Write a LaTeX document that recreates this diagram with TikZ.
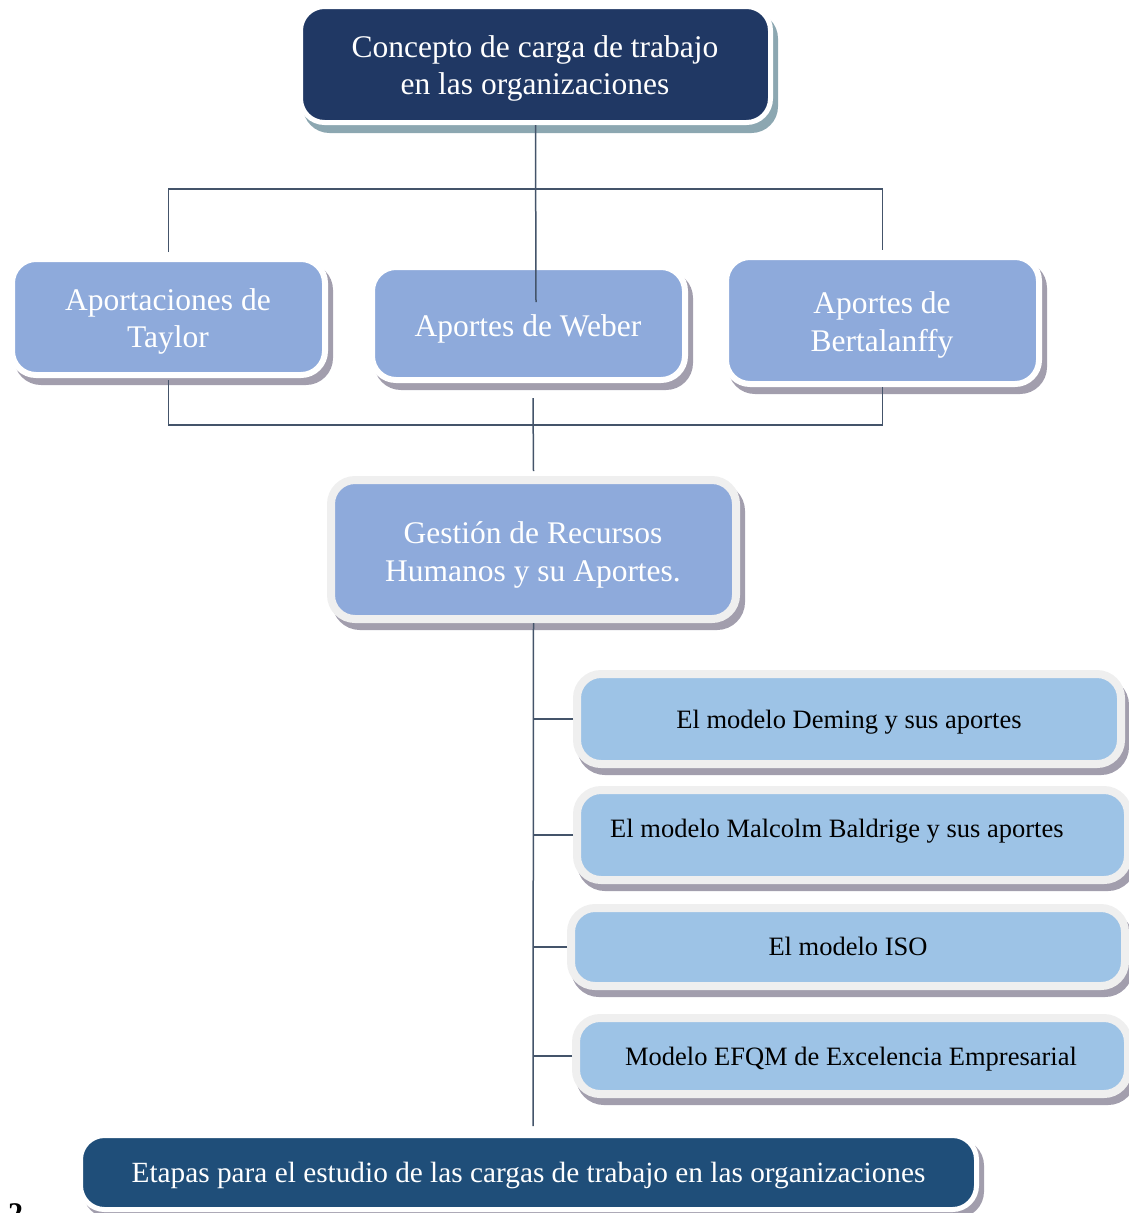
\documentclass[tikz,border=0pt]{standalone}
\usepackage{fontspec}
\setmainfont{Liberation Serif}
\usetikzlibrary{calc}

\definecolor{navy}{HTML}{203864}
\definecolor{deepblue}{HTML}{1F4E79}
\definecolor{midblue}{HTML}{8EAADB}
\definecolor{paleblue}{HTML}{9DC3E6}
\definecolor{rimgray}{HTML}{EFEFEF}
\definecolor{shadegray}{HTML}{A29EAD}
\definecolor{shadeteal}{HTML}{8CA7B1}
\definecolor{linkgray}{HTML}{44546A}

\tikzset{
  card/.style={inner sep=0pt, rounded corners=24pt},
  navycard/.style={card, fill=navy, draw=white, line width=5pt,
    preaction={fill=shadeteal, draw=shadeteal, transform canvas={xshift=5pt, yshift=-8pt}}},
  topiccard/.style={card, fill=midblue, draw=white, line width=6pt,
    preaction={fill=shadegray, draw=shadegray, transform canvas={xshift=5pt, yshift=-7pt}}},
  hubcard/.style={card, fill=midblue, draw=rimgray, line width=8pt,
    preaction={fill=shadegray, draw=shadegray, transform canvas={xshift=5pt, yshift=-7pt}}},
  modelcard/.style={card, fill=paleblue, draw=rimgray, line width=8pt,
    preaction={fill=shadegray, draw=shadegray, transform canvas={xshift=4pt, yshift=-7pt}}},
  stagecard/.style={card, fill=deepblue, draw=white, line width=5pt,
    preaction={fill=shadegray, draw=shadegray, transform canvas={xshift=5pt, yshift=-6pt}}},
  bigtext/.style={inner sep=0pt, align=center, text=white, font=\fontsize{31.5}{37.5}\selectfont},
  modeltext/.style={inner sep=0pt, align=center, text=black, font=\fontsize{26.5}{31}\selectfont},
  stagetext/.style={inner sep=0pt, align=center, text=white, font=\fontsize{29.3}{34}\selectfont},
  link/.style={draw=linkgray, line width=1.5pt},
}

\begin{document}
\begin{tikzpicture}[x=1pt, y=-1pt]
\useasboundingbox (0,0) rectangle (1128,1213);

% boxes
\node[navycard, minimum width=470pt, minimum height=116pt] (concepto) at (535.5,64.5) {};
\node[topiccard, minimum width=313pt, minimum height=116pt] (taylor) at (168.5,317) {};
\node[topiccard, minimum width=313pt, minimum height=113pt] (weber) at (528.5,323.5) {};
\node[topiccard, minimum width=313pt, minimum height=127pt] (berta) at (882.5,320.5) {};
\node[hubcard, minimum width=405pt, minimum height=139pt] (gestion) at (533.5,549.5) {};
\node[modelcard, minimum width=544pt, minimum height=90pt] (deming) at (849,719) {};
\node[modelcard, minimum width=551pt, minimum height=90pt] (malcolm) at (852.5,835) {};
\node[modelcard, minimum width=554pt, minimum height=78pt] (iso) at (848,947) {};
\node[modelcard, minimum width=552pt, minimum height=76pt] (efqm) at (852,1056) {};
\node[stagecard, minimum width=896pt, minimum height=74pt] (etapas) at (528.5,1172.5) {};

% box texts
\node[bigtext] (concepto-txt) at (535,68.5) {Concepto de carga de trabajo\\en las organizaciones};
\node[bigtext, font=\fontsize{31.5}{37}\selectfont] (taylor-txt) at (168,321) {Aportaciones de\\Taylor};
\node[bigtext] (weber-txt) at (528,328.5) {Aportes de Weber};
\node[bigtext] (berta-txt) at (882,325) {Aportes de\\Bertalanffy};
\node[bigtext, font=\fontsize{31.5}{38}\selectfont] (gestion-txt) at (533,554.5) {Gestión de Recursos\\Humanos y su Aportes.};
\node[modeltext] (deming-txt) at (849,722) {El modelo Deming y sus aportes};
\node[modeltext, anchor=west] (malcolm-txt) at (610,831.5) {El modelo Malcolm Baldrige y sus aportes};
\node[modeltext] (iso-txt) at (848,946) {El modelo ISO};
\node[modeltext] (efqm-txt) at (851,1059) {Modelo EFQM de Excelencia Empresarial};
\node[stagetext] (etapas-txt) at (528.5,1175) {Etapas para el estudio de las cargas de trabajo en las organizaciones};

% connectors
\coordinate (upperbus) at (535,189);
\coordinate (lowerbus) at (533,425);
\draw[link] (concepto.south) -- ($(weber.north)+(7.5,38)$);
\draw[link] ($(taylor.north)+(0,-4)$) |- (upperbus) -| ($(berta.north)+(0,-4)$);
\draw[link] ($(taylor.south)+(0,2)$) |- (lowerbus) -| (berta.south);
\draw[link] ($(weber.south)+(4.5,15)$) -- ($(gestion.north)+(0,-5)$);
\coordinate (spineend) at ($(etapas.north)+(4.5,-7)$);
\draw[link] (gestion.south) -- (spineend);
\draw[link] (deming.west) -- (deming.west -| spineend);
\draw[link] (malcolm.west) -- (malcolm.west -| spineend);
\draw[link] (iso.west) -- (iso.west -| spineend);
\draw[link] (efqm.west) -- (efqm.west -| spineend);

% page number cut by the lower edge
\begin{scope}
  \clip (0,0) rectangle (1128,1213);
  \node[inner sep=0pt, anchor=north west, font=\bfseries\fontsize{30}{30}\selectfont]
    (pagenum) at (8,1203) {2};
\end{scope}
\end{tikzpicture}
\end{document}
